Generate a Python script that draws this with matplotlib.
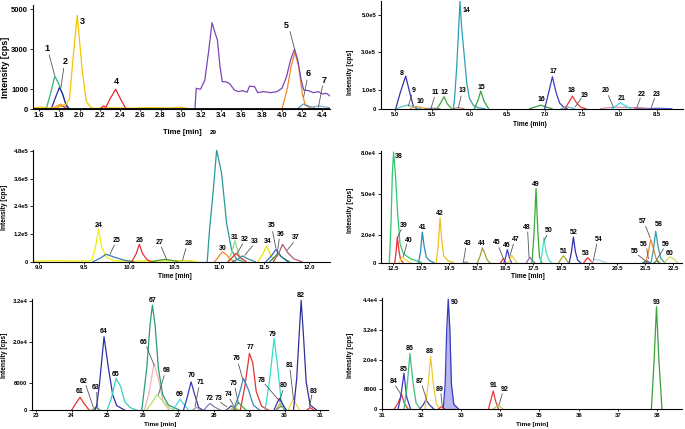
import matplotlib
matplotlib.use('Agg')
import matplotlib.pyplot as plt

plt.rcParams['font.family'] = ['Liberation Sans', 'DejaVu Sans']
plt.rcParams['font.weight'] = 'bold'

# ---------------- panel A (1.5 - 4.5 min) ----------------
purple_t = [3.14, 3.153, 3.195, 3.238, 3.277, 3.309, 3.335, 3.362, 3.388, 3.41, 3.44, 3.48,
            3.53, 3.57, 3.61, 3.655, 3.68, 3.73, 3.76, 3.82, 3.89, 3.95, 4.0, 4.045, 4.085,
            4.124, 4.156, 4.19, 4.215, 4.264, 4.31, 4.36, 4.40, 4.44, 4.475]
purple_i = [0, 1040, 990, 1450, 2960, 4330, 3880, 3460, 2120, 1370, 1370, 1290,
            950, 870, 920, 840, 1150, 1120, 820, 870, 820, 870, 1040, 1620, 2460,
            3000, 2460, 1450, 950, 920, 820, 870, 750, 790, 650]

peaks_a = [
    ('1', '#2bb673', [1.67, 1.72, 1.755, 1.80, 1.86, 1.90], [0, 900, 1650, 1200, 300, 0]),
    ('2', '#2a2aa8', [1.72, 1.76, 1.80, 1.83, 1.87, 1.90], [0, 550, 1070, 800, 150, 0]),
    ('', '#f39c33', [1.72, 1.79, 1.82, 1.86], [0, 200, 240, 0]),
    ('', '#e83030', [1.76, 1.81, 1.84, 1.88], [0, 160, 140, 0]),
    ('3', '#f5c400', [1.55, 1.62, 1.70, 1.78, 1.87, 1.90, 1.935, 1.977, 2.025, 2.065, 2.11, 2.15,
                      2.30, 2.50, 2.70, 2.90, 3.00, 3.05, 3.10],
     [60, 100, 40, 80, 250, 500, 2500, 4700, 2000, 400, 80, 30, 60, 40, 70, 50, 90, 40, 0]),
    ('4', '#e8262a', [2.20, 2.235, 2.26, 2.30, 2.357, 2.41, 2.46], [0, 150, 90, 500, 990, 450, 0]),
    ('5', '#f08a24', [4.00, 4.05, 4.09, 4.127, 4.166, 4.20, 4.23, 4.28, 4.38],
     [0, 950, 2120, 2830, 2120, 790, 200, 30, 0]),
    ('', '#7b46b6', purple_t, purple_i),
    ('6', '#6b8fa8', [4.15, 4.21, 4.28, 4.35], [0, 250, 120, 0]),
    ('7', '#8ab4d8', [4.25, 4.32, 4.37, 4.42, 4.475], [0, 120, 160, 110, 60]),
]
labels_a = [
    ('1', 1.675, 3050, (1.70, 2710, 1.753, 1700)),
    ('2', 1.86, 2370, (1.843, 2040, 1.817, 1090)),
    ('3', 2.027, 4380, None),
    ('4', 2.364, 1370, None),
    ('5', 4.046, 4210, (4.08, 3880, 4.127, 2960)),
    ('6', 4.264, 1790, (4.248, 1450, 4.215, 620)),
    ('7', 4.417, 1450, (4.40, 1150, 4.36, 80)),
]
xticks_a = [1.6, 1.8, 2.0, 2.2, 2.4, 2.6, 2.8, 3.0, 3.2, 3.4, 3.6, 3.8, 4.0, 4.2, 4.4]
yticks_a = [0, 1000, 3000, 5000]

# ---------------- panel B (5 - 8.8 min) ----------------
peaks_b = [
    ('8', '#3434b0', [5.01, 5.067, 5.143, 5.20, 5.245, 5.29], [0, 8.1e4, 1.73e5, 8.1e4, 1.4e4, 0]),
    ('9', '#5cc8c0', [5.02, 5.10, 5.17, 5.25, 5.35], [0, 1.2e4, 1.9e4, 1.0e4, 0]),
    ('10', '#f0a040', [5.20, 5.28, 5.36, 5.45], [0, 1.3e4, 5000, 0]),
    ('11', '#a08080', [5.40, 5.50, 5.60], [0, 3000, 0]),
    ('12', '#44a844', [5.56, 5.61, 5.655, 5.70, 5.76], [0, 3.0e4, 6.4e4, 2.5e4, 0]),
    ('13', '#c88080', [5.78, 5.85, 5.92], [0, 6000, 0]),
    ('14', '#2a9fb8', [5.78, 5.795, 5.825, 5.869, 5.89, 5.927, 5.96, 5.994, 6.048, 6.11, 6.2],
     [0, 4.6e4, 2.23e5, 5.71e5, 4.35e5, 2.76e5, 1.34e5, 5.5e4, 1.8e4, 5000, 0]),
    ('15', '#3aa03a', [6.06, 6.11, 6.146, 6.19, 6.25], [0, 4.5e4, 9.4e4, 4.0e4, 0]),
    ('16', '#3aa03a', [6.80, 6.88, 6.95, 7.02, 7.10], [0, 1.0e4, 1.9e4, 9000, 0]),
    ('17', '#3a3ac0', [7.00, 7.05, 7.104, 7.15, 7.20, 7.25, 7.30], [0, 8.0e4, 1.70e5, 9.0e4, 3.0e4, 1.0e4, 0]),
    ('19', '#5ab8c8', [7.22, 7.30, 7.40], [0, 1.0e4, 0]),
    ('18', '#e83a3a', [7.27, 7.32, 7.372, 7.42, 7.48, 7.55], [0, 3.2e4, 6.7e4, 3.5e4, 8000, 0]),
    ('20', '#e090b0', [7.75, 7.85, 7.95, 8.10, 8.25, 8.35], [0, 6000, 8000, 7000, 5000, 0]),
    ('21', '#30e0e0', [7.90, 7.96, 8.01, 8.08, 8.15], [0, 1.6e4, 3.2e4, 1.5e4, 0]),
    ('22', '#9a6ab0', [8.20, 8.30, 8.45], [0, 3000, 0]),
    ('23', '#5a5ad0', [8.40, 8.50, 8.70], [0, 2500, 0]),
]
labels_b = [
    ('8', 5.089, 1.87e5, None),
    ('9', 5.254, 9.9e4, (5.223, 7.2e4, 5.178, 1.4e4)),
    ('10', 5.334, 3.7e4, None),
    ('11', 5.544, 8.7e4, (5.526, 6.0e4, 5.48, 0)),
    ('12', 5.66, 8.7e4, None),
    ('13', 5.90, 9.9e4, (5.883, 6.7e4, 5.847, 5000)),
    ('14', 5.959, 5.23e5, None),
    ('15', 6.15, 1.13e5, None),
    ('16', 6.953, 5.1e4, None),
    ('17', 7.118, 1.96e5, None),
    ('18', 7.363, 9.5e4, None),
    ('19', 7.532, 7.2e4, (7.488, 5.5e4, 7.41, 1.0e4)),
    ('20', 7.818, 9.5e4, (7.853, 6.9e4, 7.92, 7000)),
    ('21', 8.023, 5.5e4, None),
    ('22', 8.30, 7.8e4, (8.277, 5.5e4, 8.232, 5000)),
    ('23', 8.49, 7.8e4, (8.468, 5.5e4, 8.424, 5000)),
]
xticks_b = [5.0, 5.5, 6.0, 6.5, 7.0, 7.5, 8.0, 8.5]
yticks_b = [0, 1.0e5, 3.0e5, 5.0e5]

# ---------------- panel C (9 - 12.2 min) ----------------
peaks_c = [
    ('24', '#f2f000', [8.95, 9.2, 9.4, 9.55, 9.585, 9.62, 9.662, 9.695, 9.744, 9.825, 9.95,
                       10.2, 10.45, 10.6, 10.7, 10.75],
     [3000, 4000, 3000, 3000, 7000, 5.0e4, 1.40e5, 6.5e4, 2.2e4, 4000, 3000, 3000, 3500, 5000, 3000, 0]),
    ('25', '#3a80b0', [9.60, 9.68, 9.744, 9.85, 9.95, 10.05], [0, 1.5e4, 3.2e4, 1.8e4, 6000, 0]),
    ('26', '#e83030', [10.03, 10.08, 10.114, 10.15, 10.20, 10.25], [0, 3.5e4, 7.5e4, 3.5e4, 8000, 0]),
    ('27', '#3a9a3a', [10.25, 10.33, 10.40, 10.47, 10.56], [0, 6000, 1.0e4, 6000, 0]),
    ('28', '#d8d040', [10.55, 10.62, 10.70], [0, 5000, 0]),
    ('29', '#2a9a98', [10.868, 10.89, 10.935, 10.972, 11.027, 11.083, 11.138, 11.194, 11.268],
     [0, 1.23e5, 3.11e5, 4.84e5, 3.83e5, 1.66e5, 5.1e4, 1.0e4, 0]),
    ('30', '#f08a30', [10.95, 11.0, 11.038, 11.08, 11.13, 11.18], [0, 2.5e4, 4.3e4, 3.0e4, 8000, 0]),
    ('31', '#90dc80', [11.10, 11.14, 11.175, 11.21, 11.26], [0, 4.0e4, 9.1e4, 4.0e4, 0]),
    ('32', '#e83030', [11.10, 11.15, 11.186, 11.23, 11.30], [0, 2.0e4, 3.6e4, 2.0e4, 0]),
    ('33', '#3a8a9a', [11.15, 11.21, 11.26, 11.32, 11.40], [0, 1.2e4, 2.5e4, 1.2e4, 0]),
    ('34', '#f2e000', [11.43, 11.48, 11.527, 11.57, 11.62], [0, 3.0e4, 6.8e4, 3.0e4, 0]),
    ('35', '#3a60c0', [11.52, 11.58, 11.63, 11.68, 11.76], [0, 2.5e4, 5.3e4, 2.5e4, 0]),
    ('36', '#2a8a60', [11.56, 11.61, 11.656, 11.70, 11.78], [0, 1.8e4, 3.9e4, 1.8e4, 0]),
    ('37', '#b05878', [11.60, 11.66, 11.704, 11.76, 11.83, 11.92], [0, 3.5e4, 7.5e4, 4.0e4, 1.2e4, 0]),
]
labels_c = [
    ('24', 9.666, 1.59e5, None),
    ('25', 9.862, 9.1e4, (9.836, 7.2e4, 9.788, 3.2e4)),
    ('26', 10.114, 9.4e4, None),
    ('27', 10.336, 8.2e4, (10.36, 6.2e4, 10.417, 1.0e4)),
    ('28', 10.657, 7.7e4, (10.63, 5.6e4, 10.594, 7000)),
    ('30', 11.038, 5.8e4, None),
    ('31', 11.175, 1.05e5, None),
    ('32', 11.286, 9.7e4, (11.26, 7.7e4, 11.2, 3.6e4)),
    ('33', 11.397, 8.7e4, (11.37, 6.8e4, 11.286, 2.9e4)),
    ('34', 11.534, 8.7e4, None),
    ('35', 11.582, 1.55e5, (11.594, 1.3e5, 11.63, 5.8e4)),
    ('36', 11.682, 1.18e5, (11.667, 9.7e4, 11.645, 3.9e4)),
    ('37', 11.852, 1.05e5, (11.823, 8.2e4, 11.756, 5.1e4)),
]
xticks_c = [9.0, 9.5, 10.0, 10.5, 11.0, 11.5, 12.0]
yticks_c = [0, 1.2e5, 2.4e5, 3.6e5, 4.8e5]

# ---------------- panel D (12.5 - 22.5 min) ----------------
peaks_d = [
    ('38', '#2ec870', [12.357, 12.417, 12.464, 12.51, 12.583, 12.655, 12.738, 12.857, 13.095, 13.33, 13.51],
     [0, 2.84e4, 6.46e4, 8.1e4, 6.2e4, 3.57e4, 1.4e4, 6700, 3100, 1400, 0]),
    ('39', '#e83030', [12.55, 12.60, 12.643, 12.70, 12.76, 12.85], [0, 8000, 1.88e4, 9000, 2000, 0]),
    ('40', '#f0e040', [12.70, 12.82, 12.95, 13.10], [0, 3900, 2000, 0]),
    ('41', '#2a88b8', [13.40, 13.47, 13.536, 13.60, 13.68, 13.80, 13.95], [0, 8000, 2.24e4, 1.2e4, 4000, 1500, 0]),
    ('42', '#f0c020', [14.03, 14.10, 14.167, 14.23, 14.30, 14.45, 14.65], [0, 1.2e4, 3.28e4, 1.6e4, 5000, 1500, 0]),
    ('43', '#909090', [15.0, 15.08, 15.16], [0, 600, 0]),
    ('44', '#a0a030', [15.50, 15.60, 15.679, 15.76, 15.85, 15.95], [0, 5000, 1.08e4, 7000, 2000, 0]),
    ('45', '#e83030', [16.33, 16.43, 16.52], [0, 3100, 0]),
    ('46', '#4040c8', [16.45, 16.51, 16.571, 16.64, 16.72], [0, 4000, 9600, 4000, 0]),
    ('47', '#f0d040', [16.60, 16.68, 16.726, 16.80, 16.92], [0, 3000, 5500, 3000, 0]),
    ('48', '#9a60c0', [17.25, 17.33, 17.38, 17.45, 17.55], [0, 2500, 3900, 2000, 0]),
    ('49', '#38a838', [17.45, 17.52, 17.595, 17.66, 17.72, 17.80], [0, 2.0e4, 5.42e4, 2.2e4, 4000, 0]),
    ('50', '#40e8c8', [17.75, 17.82, 17.88, 17.95, 18.05, 18.15], [0, 8000, 1.83e4, 8000, 2000, 0]),
    ('51', '#a8a830', [18.40, 18.50, 18.57, 18.65, 18.75], [0, 3000, 5100, 3000, 0]),
    ('52', '#3030a8', [18.78, 18.86, 18.929, 19.0, 19.08, 19.18], [0, 8000, 1.88e4, 8000, 2000, 0]),
    ('53', '#e83030', [19.30, 19.38, 19.44, 19.52, 19.62], [0, 2500, 3600, 2000, 0]),
    ('54', '#b8d0e0', [19.55, 19.70, 19.90, 20.10], [0, 2500, 1500, 0]),
    ('55', '#6a9a9a', [21.40, 21.50, 21.60], [0, 800, 0]),
    ('56', '#4060a0', [21.45, 21.55, 21.65], [0, 1500, 0]),
    ('57', '#f08830', [21.50, 21.60, 21.69, 21.78, 21.88, 22.0], [0, 7000, 1.71e4, 1.1e4, 3000, 0]),
    ('58', '#30a0b0', [21.70, 21.78, 21.869, 21.95, 22.05, 22.20], [0, 9000, 2.31e4, 1.2e4, 3000, 0]),
    ('59', '#3a8a4a', [21.82, 21.90, 22.00], [0, 1500, 0]),
    ('60', '#c8e060', [22.15, 22.28, 22.38, 22.50, 22.65], [0, 2500, 4300, 3000, 0]),
]
labels_d = [
    ('38', 12.68, 7.78e4, None),
    ('39', 12.857, 2.72e4, (12.774, 2.41e4, 12.655, 1.83e4)),
    ('40', 13.06, 1.64e4, (12.976, 1.33e4, 12.857, 4300)),
    ('41', 13.536, 2.6e4, None),
    ('42', 14.167, 3.61e4, None),
    ('43', 15.155, 1.4e4, (15.083, 1.04e4, 15.0, 500)),
    ('44', 15.655, 1.4e4, None),
    ('45', 16.19, 1.45e4, (16.274, 1.1e4, 16.43, 2900)),
    ('46', 16.548, 1.23e4, None),
    ('47', 16.87, 1.71e4, (16.786, 1.35e4, 16.667, 5500)),
    ('48', 17.262, 2.6e4, (17.298, 2.24e4, 17.345, 3900)),
    ('49', 17.595, 5.73e4, None),
    ('50', 18.06, 2.36e4, (17.976, 2.0e4, 17.893, 1.64e4)),
    ('51', 18.57, 8400, None),
    ('52', 18.929, 2.19e4, None),
    ('53', 19.369, 6700, None),
    ('54', 19.845, 1.71e4, (19.762, 1.35e4, 19.643, 1900)),
    ('55', 21.107, 8000, (21.25, 5500, 21.548, 500)),
    ('56', 21.452, 1.33e4, (21.548, 1.01e4, 21.607, 3100)),
    ('57', 21.405, 3.01e4, (21.512, 2.65e4, 21.667, 1.83e4)),
    ('58', 21.964, 2.8e4, None),
    ('59', 22.226, 1.33e4, (22.143, 1.01e4, 21.905, 2400)),
    ('60', 22.38, 6700, None),
]
xticks_d = [12.5, 13.5, 14.5, 15.5, 16.5, 17.5, 18.5, 19.5, 20.5, 21.5, 22.5]
yticks_d = [0, 2.0e4, 5.0e4, 8.0e4]

# ---------------- panel E (23 - 31 min) ----------------
peaks_e = [
    ('61', '#e83030', [24.00, 24.12, 24.239, 24.35, 24.50], [0, 2000, 3800, 2000, 0]),
    ('62', '#f0d040', [24.55, 24.66, 24.78], [0, 800, 0]),
    ('63', '#4a80b0', [24.60, 24.70, 24.80], [0, 1000, 0]),
    ('64', '#3030a8', [24.66, 24.71, 24.784, 24.915, 25.04, 25.16, 25.27, 25.50],
     [0, 1550, 7400, 2.15e4, 1.22e4, 4500, 1400, 0]),
    ('65', '#38d0c0', [25.00, 25.12, 25.254, 25.38, 25.50, 25.65, 25.85], [0, 3500, 9300, 7000, 2500, 800, 0]),
    ('66', '#f0b4b4', [26.05, 26.18, 26.324, 26.45, 26.58, 26.75], [0, 5000, 1.37e4, 9000, 2500, 0]),
    ('67', '#2a9a7a', [25.977, 26.117, 26.21, 26.277, 26.352, 26.446, 26.568, 26.728, 27.056],
     [0, 1.22e4, 2.49e4, 3.07e4, 2.49e4, 1.22e4, 4500, 1550, 0]),
    ('68', '#b8dc70', [26.10, 26.25, 26.40, 26.55, 26.75, 26.90], [0, 2000, 4500, 3000, 800, 0]),
    ('69', '#40e0e0', [26.85, 26.95, 27.056, 27.16, 27.30], [0, 1500, 3200, 1800, 0]),
    ('70', '#3a3ac0', [27.15, 27.25, 27.366, 27.47, 27.58, 27.70], [0, 3500, 8300, 4500, 800, 0]),
    ('71', '#9a9aa0', [27.40, 27.52, 27.65], [0, 900, 0]),
    ('72', '#8a7ab0', [27.72, 27.82, 27.90, 28.02, 28.20], [0, 1200, 2000, 1000, 0]),
    ('73', '#4a4a90', [28.35, 28.50, 28.65], [0, 1300, 0]),
    ('74', '#e0c040', [28.45, 28.58, 28.72], [0, 1100, 0]),
    ('75', '#40c040', [28.55, 28.65, 28.70, 28.78, 28.92], [0, 1500, 2300, 1400, 0]),
    ('76', '#3a88b8', [28.55, 28.70, 28.84, 28.98, 29.12, 29.30], [0, 4000, 9300, 6000, 1500, 0]),
    ('77', '#e83030', [28.75, 28.88, 29.009, 29.10, 29.20, 29.35, 29.55], [0, 7000, 1.66e4, 1.4e4, 5500, 1200, 0]),
    ('78', '#707080', [29.75, 29.90, 30.05], [0, 1200, 0]),
    ('', '#b0b040', [29.75, 29.87, 30.0], [0, 2000, 0]),
    ('79', '#30e0c8', [29.45, 29.58, 29.704, 29.80, 29.90, 30.00], [0, 9000, 2.1e4, 1.3e4, 3000, 0]),
    ('80', '#3a3aa8', [29.70, 29.78, 29.854, 29.93, 30.05], [0, 2000, 3500, 2000, 0]),
    ('81', '#f0d040', [30.10, 30.18, 30.249, 30.32, 30.42], [0, 2000, 3500, 1800, 0]),
    ('82', '#30309a', [30.249, 30.34, 30.408, 30.465, 30.53, 30.606, 30.718, 30.906],
     [0, 9300, 2.19e4, 3.21e4, 2.19e4, 8300, 1550, 0]),
    ('83', '#e83030', [30.62, 30.72, 30.82], [0, 800, 0]),
]
labels_e = [
    ('61', 24.22, 5400, None),
    ('62', 24.352, 8500, (24.408, 7200, 24.615, 800)),
    ('63', 24.69, 6700, (24.709, 5200, 24.728, 1100)),
    ('64', 24.915, 2.29e4, None),
    ('65', 25.254, 1.05e4, None),
    ('66', 26.042, 1.98e4, (26.117, 1.85e4, 26.324, 1.32e4)),
    ('67', 26.277, 3.21e4, None),
    ('68', 26.68, 1.15e4, (26.606, 1.01e4, 26.446, 4500)),
    ('69', 27.056, 4700, None),
    ('70', 27.366, 1.03e4, None),
    ('71', 27.638, 8100, (27.582, 6600, 27.479, 1100)),
    ('72', 27.901, 3500, None),
    ('73', 28.136, 3500, (28.2, 2300, 28.37, 1000)),
    ('74', 28.418, 4500, (28.465, 3200, 28.56, 1400)),
    ('75', 28.559, 7800, (28.606, 6400, 28.7, 2000)),
    ('76', 28.653, 1.5e4, (28.7, 1.35e4, 28.82, 9100)),
    ('77', 29.028, 1.83e4, None),
    ('78', 29.357, 8800, (29.45, 7600, 29.873, 2500)),
    ('79', 29.667, 2.21e4, None),
    ('80', 29.986, 7100, (29.948, 5700, 29.873, 3300)),
    ('81', 30.136, 1.32e4, (30.155, 1.17e4, 30.249, 3300)),
    ('82', 30.465, 3.36e4, None),
    ('83', 30.812, 5600, (30.765, 4500, 30.7, 1000)),
]
xticks_e = [23, 24, 25, 26, 27, 28, 29, 30, 31]
yticks_e = [0, 8000, 2.0e4, 3.2e4]

# ---------------- panel F (31 - 38.6 min) ----------------
peaks_f = [
    ('84', '#e83a3a', [31.30, 31.40, 31.492, 31.56, 31.66], [0, 2500, 6000, 2500, 0]),
    ('85', '#3a3ac8', [31.40, 31.47, 31.551, 31.62, 31.72], [0, 5000, 1.45e4, 5000, 0]),
    ('86', '#40c080', [31.55, 31.63, 31.704, 31.78, 31.86, 31.98], [0, 9000, 2.25e4, 1.1e4, 2500, 0]),
    ('87', '#4040a0', [31.95, 32.04, 32.111, 32.20, 32.32], [0, 1800, 3800, 1800, 0]),
    ('88', '#f0c830', [32.08, 32.16, 32.23, 32.30, 32.38, 32.48], [0, 9000, 2.12e4, 1.0e4, 2000, 0]),
    ('89', '#e83a3a', [32.42, 32.51, 32.60], [0, 1100, 0]),
    ('90', '#3a3ac0', [32.55, 32.60, 32.64, 32.679, 32.72, 32.76, 32.82, 32.95],
     [0, 1.0e4, 3.2e4, 4.44e4, 3.2e4, 1.0e4, 2000, 0]),
    ('91', '#e83a3a', [33.70, 33.76, 33.824, 33.88, 33.96], [0, 3500, 7400, 3500, 0]),
    ('92', '#b0d060', [33.82, 33.95, 34.08], [0, 1700, 0]),
    ('93', '#3aa03a', [37.85, 37.92, 37.98, 38.04, 38.12], [0, 2.0e4, 4.13e4, 2.0e4, 0]),
]
labels_f = [
    ('84', 31.28, 1.11e4, (31.339, 9400, 31.475, 6000)),
    ('85', 31.534, 1.62e4, None),
    ('86', 31.704, 2.46e4, None),
    ('87', 31.958, 1.11e4, (32.018, 9400, 32.128, 3800)),
    ('88', 32.213, 2.32e4, None),
    ('89', 32.467, 8100, (32.493, 6200, 32.527, 1100)),
    ('90', 32.849, 4.3e4, None),
    ('91', 33.824, 9500, None),
    ('92', 34.104, 8100, (34.053, 6200, 33.969, 1700)),
    ('93', 37.98, 4.3e4, None),
]
xticks_f = [31, 32, 33, 34, 35, 36, 37, 38]
yticks_f = [0, 8000, 2.0e4, 3.2e4, 4.4e4]

filled = {'90': '#b8b8ee'}


def draw_panel(rect, peaks, labels, xlim, ylim, xticks, xtl, yticks, ytl, fs_tick, fs_lab):
    ax = fig.add_axes(rect)
    for name, color, xs, ys in peaks:
        if name in filled:
            ax.fill_between(xs, ys, color=filled[name], lw=0)
        ax.plot(xs, ys, color=color, lw=0.9, solid_joinstyle='round')
    for name, tx, ty, lead in labels:
        if lead is not None:
            ax.plot([lead[0], lead[2]], [lead[1], lead[3]], color='#555555', lw=0.6)
        ax.text(tx, ty, name, ha='center', va='center', fontsize=fs_lab,
                fontweight='bold', clip_on=False)
    ax.set_xlim(*xlim)
    ax.set_ylim(*ylim)
    ax.set_xticks(xticks)
    ax.set_xticklabels(xtl, fontsize=fs_tick, fontweight='bold')
    ax.set_yticks(yticks)
    ax.set_yticklabels(ytl, fontsize=fs_tick, fontweight='bold')
    for s in ['top', 'right']:
        ax.spines[s].set_visible(False)
    for s in ['left', 'bottom']:
        ax.spines[s].set_linewidth(0.8)
    ax.tick_params(length=2, width=0.6, pad=1.5)
    ax.tick_params(axis='x', length=1.5, pad=0.8)
    ax.patch.set_alpha(0)
    return ax


fig = plt.figure(figsize=(6.85, 4.29), dpi=100)

ax_a = draw_panel([0.0482, 0.7459, 0.4336, 0.2424], peaks_a, labels_a, (1.54, 4.475), (0, 5215),
                  xticks_a, ['%.1f' % v for v in xticks_a], yticks_a, ['0', '1000', '3000', '5000'], 5.5, 6.5)
ax_a.axhline(0, color='black', lw=2, zorder=3)

draw_panel([0.5562, 0.7466, 0.441, 0.2522], peaks_b, labels_b, (4.813, 8.85), (0, 5.75e5),
           xticks_b, ['%.1f' % v for v in xticks_b], yticks_b, ['0', '1.0e5', '3.0e5', '5.0e5'], 4.2, 5)

draw_panel([0.0486, 0.39, 0.4331, 0.2613], peaks_c, labels_c, (8.937, 12.23), (0, 4.86e5),
           xticks_c, ['%.1f' % v for v in xticks_c], yticks_c,
           ['0', '1.2e5', '2.4e5', '3.6e5', '4.8e5'], 4.2, 5)

draw_panel([0.5562, 0.3876, 0.44, 0.2613], peaks_d, labels_d, (12.06, 22.82), (0, 8.2e4),
           xticks_d, ['%.1f' % v for v in xticks_d], yticks_d, ['0', '2.0e4', '5.0e4', '8.0e4'], 4.2, 5)

draw_panel([0.0472, 0.0436, 0.4321, 0.2594], peaks_e, labels_e, (22.896, 31.23), (0, 3.25e4),
           xticks_e, [str(v) for v in xticks_e], yticks_e, ['0', '8000', '2.0e4', '3.2e4'], 4.2, 5)

draw_panel([0.5581, 0.0459, 0.437, 0.2587], peaks_f, labels_f, (31.0, 38.62), (0, 4.47e4),
           xticks_f, [str(v) for v in xticks_f], yticks_f,
           ['0', '8000', '2.0e4', '3.2e4', '4.4e4'], 4.2, 5)


def ftext(px, py, s, **kw):
    fig.text(px / 685, 1 - py / 429, s, ha='center', va='center', fontweight='bold', **kw)


# axis titles
ftext(6, 67, 'Intensity [cps]', rotation=90, fontsize=6.5)
ftext(350, 72, 'Intensity [cps]', rotation=90, fontsize=4.8)
ftext(5, 207, 'Intensity [cps]', rotation=90, fontsize=4.8)
ftext(350, 210, 'Intensity [cps]', rotation=90, fontsize=4.8)
ftext(5, 355, 'Intensity [cps]', rotation=90, fontsize=4.8)
ftext(350, 355, 'Intensity [cps]', rotation=90, fontsize=4.8)
ftext(182, 133, 'Time [min]', fontsize=5.5)
ftext(213, 133, '29', fontsize=4.5)
ftext(530, 124, 'Time (min)', fontsize=4.8)
ftext(175, 276, 'Time [min]', fontsize=4.8)
ftext(528, 276, 'Time [min]', fontsize=4.8)
ftext(160, 424.5, 'Time [min]', fontsize=4.6)
ftext(532, 424.5, 'Time [min]', fontsize=4.6)

fig.savefig('out.png', dpi=100)
